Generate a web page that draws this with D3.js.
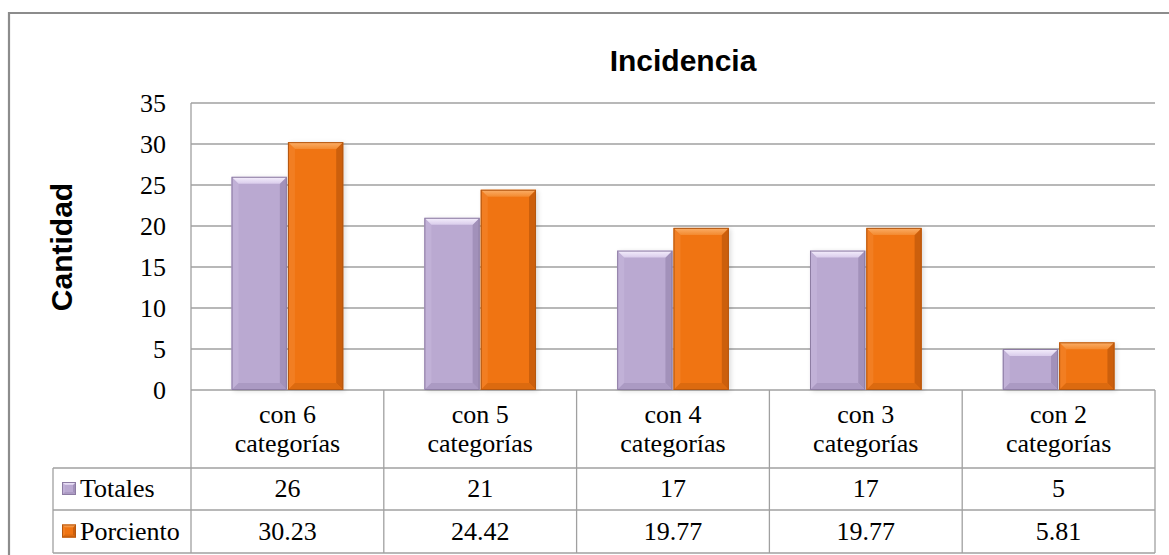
<!DOCTYPE html>
<html>
<head>
<meta charset="utf-8">
<script src="https://cdn.jsdelivr.net/npm/d3@7/dist/d3.min.js"></script>
<style>
  html, body { margin: 0; padding: 0; background: #fff; }
  svg { display: block; }
  .serif { font-family: "Liberation Serif", "Times New Roman", serif; }
  .sans { font-family: "Liberation Sans", Arial, sans-serif; font-weight: bold; }
</style>
</head>
<body>
<svg id="chart" width="1169" height="555"></svg>
<script>
// Chart data
const categories = ["con 6 categorías", "con 5 categorías", "con 4 categorías", "con 3 categorías", "con 2 categorías"];
const seriesNames = ["Totales", "Porciento"];
const totales = [26, 21, 17, 17, 5];
const porciento = [30.23, 24.42, 19.77, 19.77, 5.81];
const porcientoLabels = ["30.23", "24.42", "19.77", "19.77", "5.81"];
const yTicks = [0, 5, 10, 15, 20, 25, 30, 35];

const W = 1169, H = 555;
const plot = { left: 191, right: 1155, top: 103, bottom: 390 };
const rows = { cat: [390, 468], tot: [468, 510], pct: [510, 553] };
const legendLeft = 53;
const gridColor = "#a0a0a0";
const textSize = "26px";

const styles = {
  Totales:   { id: "tot", base: "#baa9d1", topA: "#f6f0fd", topB: "#d9cceb", left: "#c1b1d7", right: "#a291ba", bottom: "#ab9ac3", edge: "#8d7ca3" },
  Porciento: { id: "pct", base: "#f07412", topA: "#fbb06a", topB: "#f38a30", left: "#f27e22", right: "#cc5f0c", bottom: "#dc6a0f", edge: "#b45710" }
};

const svg = d3.select("#chart");
const defs = svg.append("defs");

// Gradients for the lit top bevel of each series
Object.values(styles).forEach(st => {
  const g = defs.append("linearGradient").attr("id", "top-" + st.id)
    .attr("x1", 0).attr("y1", 0).attr("x2", 0).attr("y2", 1);
  g.append("stop").attr("offset", 0).attr("stop-color", st.topA);
  g.append("stop").attr("offset", 1).attr("stop-color", st.topB);
});

// Serif text helper
function serifText(sel) {
  return sel.attr("class", "serif")
    .style("font-family", "Liberation Serif")
    .style("font-size", textSize)
    .attr("fill", "#000");
}

// Outer chart frame
svg.append("path")
  .attr("d", `M9,${H} L9,13 L${W},13`)
  .attr("fill", "none").attr("stroke", "#8c8c8c").attr("stroke-width", 2.2);

// Scales
const y = d3.scaleLinear().domain([0, 35]).range([plot.bottom, plot.top]);
const x0 = d3.scaleBand().domain(categories).range([plot.left, plot.right]).padding(0);
const x1 = d3.scaleBand().domain(seriesNames).range([0, x0.bandwidth()])
  .paddingInner(0.02).paddingOuter(0.72);

// Gridlines
svg.append("g").selectAll("line").data(yTicks).join("line")
  .attr("x1", plot.left).attr("x2", plot.right)
  .attr("y1", d => y(d)).attr("y2", d => y(d))
  .attr("stroke", gridColor).attr("stroke-width", 1.3);

// Y axis labels
const yAxis = d3.axisLeft(y).tickValues(yTicks).tickSize(0).tickPadding(0);
const yg = svg.append("g").attr("transform", `translate(166,0)`).call(yAxis);
yg.attr("font-family", null).attr("font-size", null);
yg.select(".domain").remove();
serifText(yg.selectAll("text")).attr("dy", "0.33em");

// Axis title
svg.append("text")
  .attr("class", "sans")
  .style("font-family", "Liberation Sans").style("font-weight", "bold").style("font-size", "30px")
  .attr("transform", `translate(72,247) rotate(-90)`)
  .attr("text-anchor", "middle")
  .attr("fill", "#000")
  .text("Cantidad");

// Chart title
svg.append("text")
  .attr("class", "sans")
  .style("font-family", "Liberation Sans").style("font-weight", "bold").style("font-size", "30px")
  .attr("x", 683).attr("y", 71)
  .attr("text-anchor", "middle")
  .attr("fill", "#000")
  .text("Incidencia");

// Bevelled block
function bevel(g, bx, by, bw, bh, st, b) {
  b = Math.min(b, bh / 2, bw / 2);
  const pts = a => a.map(p => p.join(",")).join(" ");
  g.append("rect").attr("x", bx).attr("y", by).attr("width", bw).attr("height", bh).attr("fill", st.base);
  g.append("polygon").attr("points", pts([[bx, by], [bx + b, by + b], [bx + b, by + bh - b], [bx, by + bh]])).attr("fill", st.left);
  g.append("polygon").attr("points", pts([[bx + bw, by], [bx + bw, by + bh], [bx + bw - b, by + bh - b], [bx + bw - b, by + b]])).attr("fill", st.right);
  g.append("polygon").attr("points", pts([[bx, by + bh], [bx + b, by + bh - b], [bx + bw - b, by + bh - b], [bx + bw, by + bh]])).attr("fill", st.bottom);
  g.append("polygon").attr("points", pts([[bx, by], [bx + bw, by], [bx + bw - b, by + b], [bx + b, by + b]])).attr("fill", `url(#top-${st.id})`);
  g.append("rect").attr("x", bx + 0.5).attr("y", by + 0.5).attr("width", bw - 1).attr("height", bh - 1)
    .attr("fill", "none").attr("stroke", st.edge).attr("stroke-width", 1);
}

// Soft shadow behind bars
const blur = defs.append("filter").attr("id", "shadow").attr("x", "-20%").attr("y", "-10%").attr("width", "140%").attr("height", "120%");
blur.append("feGaussianBlur").attr("stdDeviation", 2.5);

const seriesData = { Totales: totales, Porciento: porciento };
const bars = svg.append("g");
categories.forEach((c, i) => {
  seriesNames.forEach(s => {
    const v = seriesData[s][i];
    bars.append("rect").attr("x", x0(c) + x1(s) + 2).attr("y", y(v) + 1)
      .attr("width", x1.bandwidth()).attr("height", y(0) - y(v))
      .attr("fill", "#000").attr("opacity", 0.14).attr("filter", "url(#shadow)");
  });
});
categories.forEach((c, i) => {
  seriesNames.forEach(s => {
    const v = seriesData[s][i];
    bevel(bars.append("g"), x0(c) + x1(s), y(v), x1.bandwidth(), y(0) - y(v), styles[s], 7);
  });
});

// Data table
const tg = svg.append("g");
const rule = (ax, ay, bx, by) => tg.append("line")
  .attr("x1", ax).attr("y1", ay).attr("x2", bx).attr("y2", by)
  .attr("stroke", gridColor).attr("stroke-width", 1.3);

rule(plot.left, plot.top, plot.left, rows.pct[1]);
categories.forEach(c => rule(x0(c) + x0.bandwidth(), plot.bottom, x0(c) + x0.bandwidth(), rows.pct[1]));
rule(legendLeft, rows.tot[0], legendLeft, rows.pct[1]);
rule(legendLeft, rows.tot[0], plot.right, rows.tot[0]);
rule(legendLeft, rows.pct[0], plot.right, rows.pct[0]);
rule(legendLeft, rows.pct[1], plot.right, rows.pct[1]);

// Category labels (two lines)
categories.forEach(c => {
  const cx = x0(c) + x0.bandwidth() / 2;
  const parts = c.split(" ");
  const t = serifText(tg.append("text")).attr("text-anchor", "middle");
  t.append("tspan").attr("x", cx).attr("y", 423).text(parts.slice(0, 2).join(" "));
  t.append("tspan").attr("x", cx).attr("y", 452).text(parts.slice(2).join(" "));
});

// Value rows with legend keys
const rowDefs = [
  { name: "Totales", vals: totales.map(String), r: rows.tot },
  { name: "Porciento", vals: porcientoLabels, r: rows.pct }
];
rowDefs.forEach(rd => {
  const cy = (rd.r[0] + rd.r[1]) / 2;
  categories.forEach((c, i) => {
    serifText(tg.append("text"))
      .attr("x", x0(c) + x0.bandwidth() / 2).attr("y", cy + 8)
      .attr("text-anchor", "middle")
      .text(rd.vals[i]);
  });
  bevel(tg.append("g"), 62, cy - 7, 14, 13, styles[rd.name], 3);
  serifText(tg.append("text"))
    .attr("x", 80).attr("y", cy + 8)
    .text(rd.name);
});
</script>
</body>
</html>
